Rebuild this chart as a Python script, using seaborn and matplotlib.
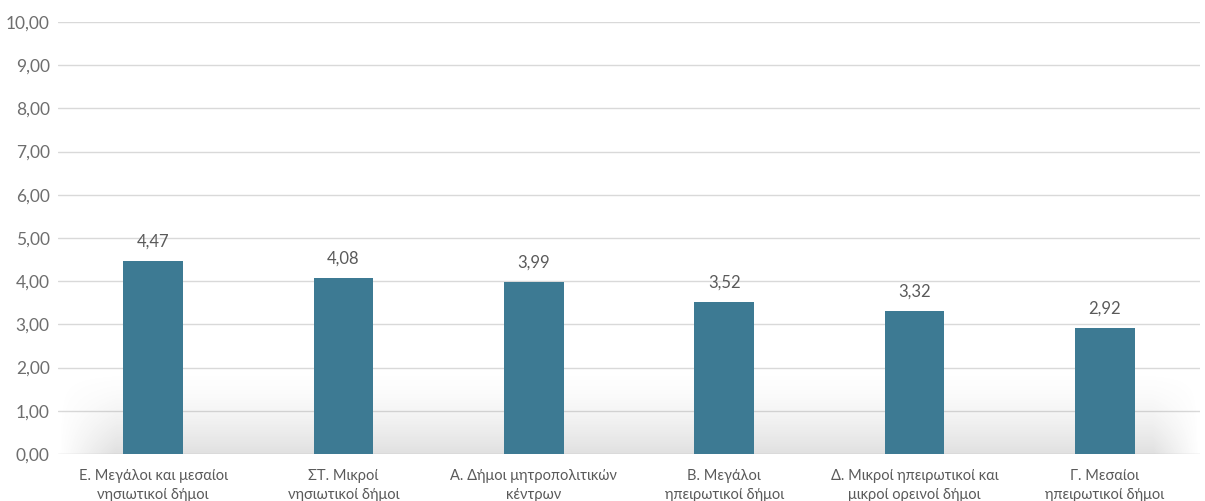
import numpy as np
import pandas as pd
import matplotlib
matplotlib.use("Agg")
import matplotlib.pyplot as plt
import seaborn as sns
from matplotlib.ticker import FuncFormatter

# dados
categorias = ['Ε. Μεγάλοι και μεσαίοι\nνησιωτικοί δήμοι',
              'ΣΤ. Μικροί\nνησιωτικοί δήμοι',
              'Α. Δήμοι μητροπολιτικών\nκέντρων',
              'Β. Μεγάλοι\nηπειρωτικοί δήμοι',
              'Δ. Μικροί ηπειρωτικοί και\nμικροί ορεινοί δήμοι',
              'Γ. Μεσαίοι\nηπειρωτικοί δήμοι']
valores = [4.47, 4.08, 3.99, 3.52, 3.32, 2.92]
y_ticks = [0, 1, 2, 3, 4, 5, 6, 7, 8, 9, 10]

sns.set_theme(style='white')
plt.rcParams['font.family'] = ['Lato', 'DejaVu Sans']

df = pd.DataFrame({'Categoria': categorias, 'Valor': valores})

fig = plt.figure(figsize=(12.05, 5.01), dpi=100)
ax = fig.add_axes([58 / 1205, 47 / 501, 1142 / 1205, 432 / 501])

sns.barplot(data=df, x='Categoria', y='Valor', color='#3d7a93', width=0.315,
            saturation=1, linewidth=0, ax=ax, zorder=3)

# sombra cinza perto do eixo
h, w = 100, 400
vert = np.linspace(0, 1, h)[:, None] ** 1.6
xs = np.linspace(0, 1, w)[None, :]
horiz = np.clip(xs / 0.05, 0, 1) * np.clip((1 - xs) / 0.04, 0, 1)
alpha = 0.22 * vert * horiz
img = np.zeros((h, w, 4))
img[..., :3] = 0.45
img[..., 3] = alpha
ax.imshow(img, extent=(-0.5, 5.5, 0, 1.95), aspect='auto', origin='upper',
          zorder=1, interpolation='bilinear')

ax.set_xlim(-0.5, 5.5)
ax.set_ylim(0, 10)
ax.set_yticks(y_ticks)
ax.yaxis.set_major_formatter(FuncFormatter(lambda v, p: f'{v:.2f}'.replace('.', ',')))
ax.grid(axis='y', color='#d9d9d9', linewidth=1, zorder=0)
ax.set_axisbelow(True)
for s in ax.spines.values():
    s.set_visible(False)

ax.tick_params(axis='y', length=0, pad=6, labelsize=12.5, labelcolor='#6e6e6e')
ax.tick_params(axis='x', length=0, pad=11, labelsize=10.5, labelcolor='#5a5a5a')
for t in ax.get_xticklabels():
    t.set_linespacing(1.45)
ax.set_xlabel('')
ax.set_ylabel('')

ax.bar_label(ax.containers[0], labels=[f'{v:.2f}'.replace('.', ',') for v in valores],
             padding=8, fontsize=12, color='#5a5a5a')

fig.savefig('out.png', dpi=100)
